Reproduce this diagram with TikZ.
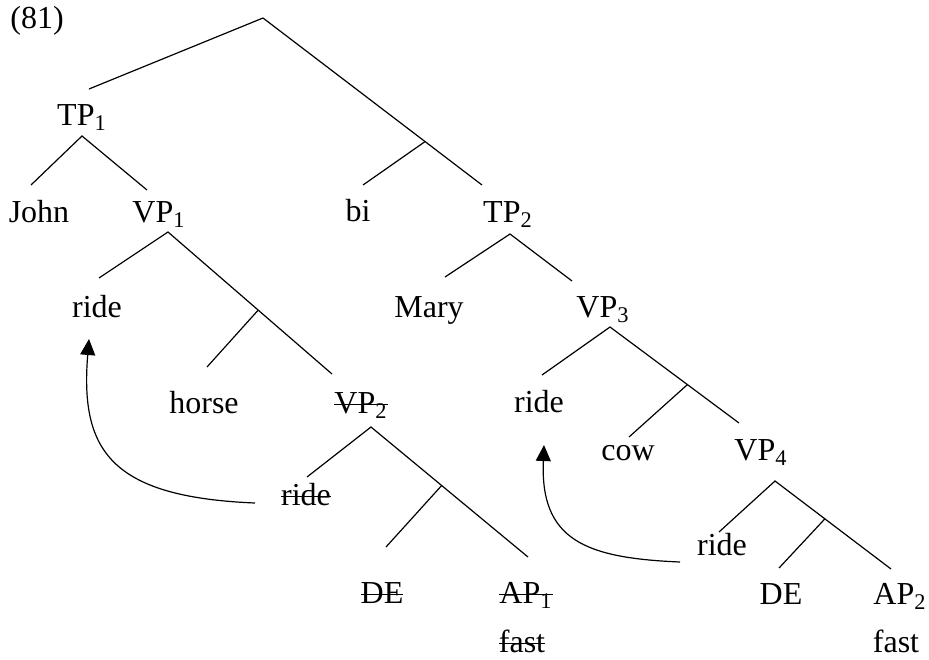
\documentclass[tikz,border=0pt]{standalone}
\usepackage{fontspec}
\setmainfont{Liberation Serif}
\usetikzlibrary{arrows.meta}

\newsavebox\strkbox
\newcommand\strk[1]{\sbox\strkbox{#1}\rlap{\rule[.25em]{\wd\strkbox}{.5pt}}\usebox\strkbox}

\begin{document}
\begin{tikzpicture}[x=0.5pt,y=-0.5pt,
    lab/.style={anchor=base,inner sep=0pt,font=\fontsize{16}{19}\selectfont},
    branch/.style={line width=0.6pt},
    move/.style={line width=0.6pt,-{Triangle[length=8pt,width=7.5pt]}}]
                \useasboundingbox (0,0) rectangle (929,659);

                \node[lab,anchor=base west] (num) at (10,28) {(81)};
                \coordinate (top) at (263,18);

                \node[lab] (tp1) at (82,125) {TP\textsubscript{1}};
                \node[lab] (john) at (39,222) {John};
                \node[lab] (vp1) at (159,222) {VP\textsubscript{1}};
                \node[lab] (bi) at (358,221) {bi};
                \node[lab] (tp2) at (508,222) {TP\textsubscript{2}};

                \node[lab] (ride1) at (97,317) {ride};
                \node[lab] (horse) at (204,413) {horse};
                \node[lab] (vp2) at (361,413) {\strk{VP\textsubscript{2}}};
                \node[lab] (ride2) at (306,505) {\strk{ride}};
                \node[lab] (de1) at (382,603) {\strk{DE}};
                \node[lab] (ap1) at (526,603) {\strk{AP\textsubscript{1}}};
                \node[lab] (fast1) at (522,652) {\strk{fast}};

                \node[lab] (mary) at (429,317) {Mary};
                \node[lab] (vp3) at (603,317) {VP\textsubscript{3}};
                \node[lab] (ride3) at (539,412) {ride};
                \node[lab] (cow) at (628,460) {cow};
                \node[lab] (vp4) at (761,460) {VP\textsubscript{4}};
                \node[lab] (ride4) at (722,555) {ride};
                \node[lab] (de2) at (781,604) {DE};
                \node[lab] (ap2) at (900,604) {AP\textsubscript{2}};
                \node[lab] (fast2) at (896,652) {fast};

                \draw[branch] (top) -- ([shift={(7,-36)}]tp1.base);
                \draw[branch] (top) -- coordinate[pos=0.74] (j1) ([shift={(-26,-37)}]tp2.base);
                \draw[branch] (j1) -- ([shift={(5,-36)}]bi.base);

                \draw[branch] ([shift={(-8,-37)}]john.base) -- ([shift={(0,11)}]tp1.base) -- ([shift={(-12,-32)}]vp1.base);

                \draw[branch] ([shift={(2,-39)}]ride1.base) -- ([shift={(9,10)}]vp1.base) -- coordinate[pos=0.55] (j2) ([shift={(-29,-39)}]vp2.base);
                \draw[branch] (j2) -- ([shift={(3,-46)}]horse.base);

                \draw[branch] ([shift={(1,-28)}]ride2.base) -- ([shift={(10,14)}]vp2.base) -- coordinate[pos=0.45] (j3) ([shift={(2,-46)}]ap1.base);
                \draw[branch] (j3) -- ([shift={(4,-56)}]de1.base);

                \draw[branch] ([shift={(16,-40)}]mary.base) -- ([shift={(2,12)}]tp2.base) -- ([shift={(-31,-36)}]vp3.base);

                \draw[branch] ([shift={(3,-37)}]ride3.base) -- ([shift={(7,10)}]vp3.base) -- coordinate[pos=0.6] (j4) ([shift={(-22,-37)}]vp4.base);
                \draw[branch] (j4) -- ([shift={(1,-23)}]cow.base);

                \draw[branch] ([shift={(-3,-23)}]ride4.base) -- ([shift={(14,21)}]vp4.base) -- coordinate[pos=0.43] (j5) ([shift={(-9,-35)}]ap2.base);
                \draw[branch] (j5) -- ([shift={(-2,-36)}]de2.base);

                \draw[move] ([shift={(-51,-2)}]ride2.base) .. controls (110,497) and (80,450) .. ([shift={(-8,22)}]ride1.base);
                \draw[move] ([shift={(-42,7)}]ride4.base) .. controls (585,558) and (540,540) .. ([shift={(5,33)}]ride3.base);
            \end{tikzpicture}
\end{document}
